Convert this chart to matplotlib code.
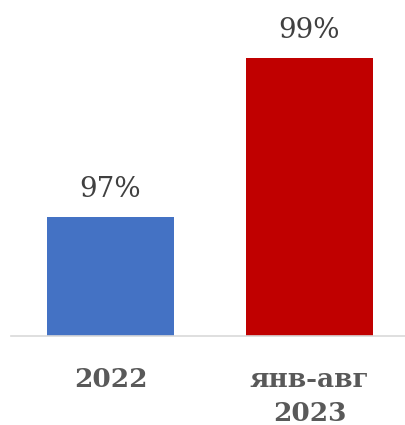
import matplotlib
matplotlib.use('Agg')
import matplotlib.pyplot as plt

# данные
categories = ['2022', 'янв-авг\n2023']
values = [97, 99]
labels = ['97%', '99%']
colors = ['#4472C4', '#C00000']

plt.rcParams['font.family'] = ['DejaVu Serif']

fig = plt.figure(figsize=(4.06, 4.25), dpi=100)
ax = fig.add_axes([11/406, 1 - 336/425, 1 - 11/406 + 3/406, 336/425])

x = range(len(categories))
ax.bar(x, values, width=0.64, color=colors, zorder=2)
ax.set_ylim(95.5, 99.73)
ax.set_xlim(-0.5, 1.5)

for xi, v, t in zip(x, values, labels):
    ax.text(xi, v + 0.17, t, ha='center', va='bottom', fontsize=20, color='#404040')

ax.set_xticks(list(x))
ax.set_xticklabels(categories, fontsize=19, fontweight='bold', color='#595959', linespacing=1.45)
ax.tick_params(axis='x', length=0, pad=22)
ax.set_yticks([])
for s in ['top', 'right', 'left']:
    ax.spines[s].set_visible(False)
ax.spines['bottom'].set_color('#D9D9D9')
ax.spines['bottom'].set_linewidth(1.2)

fig.savefig('out.png', dpi=100)
